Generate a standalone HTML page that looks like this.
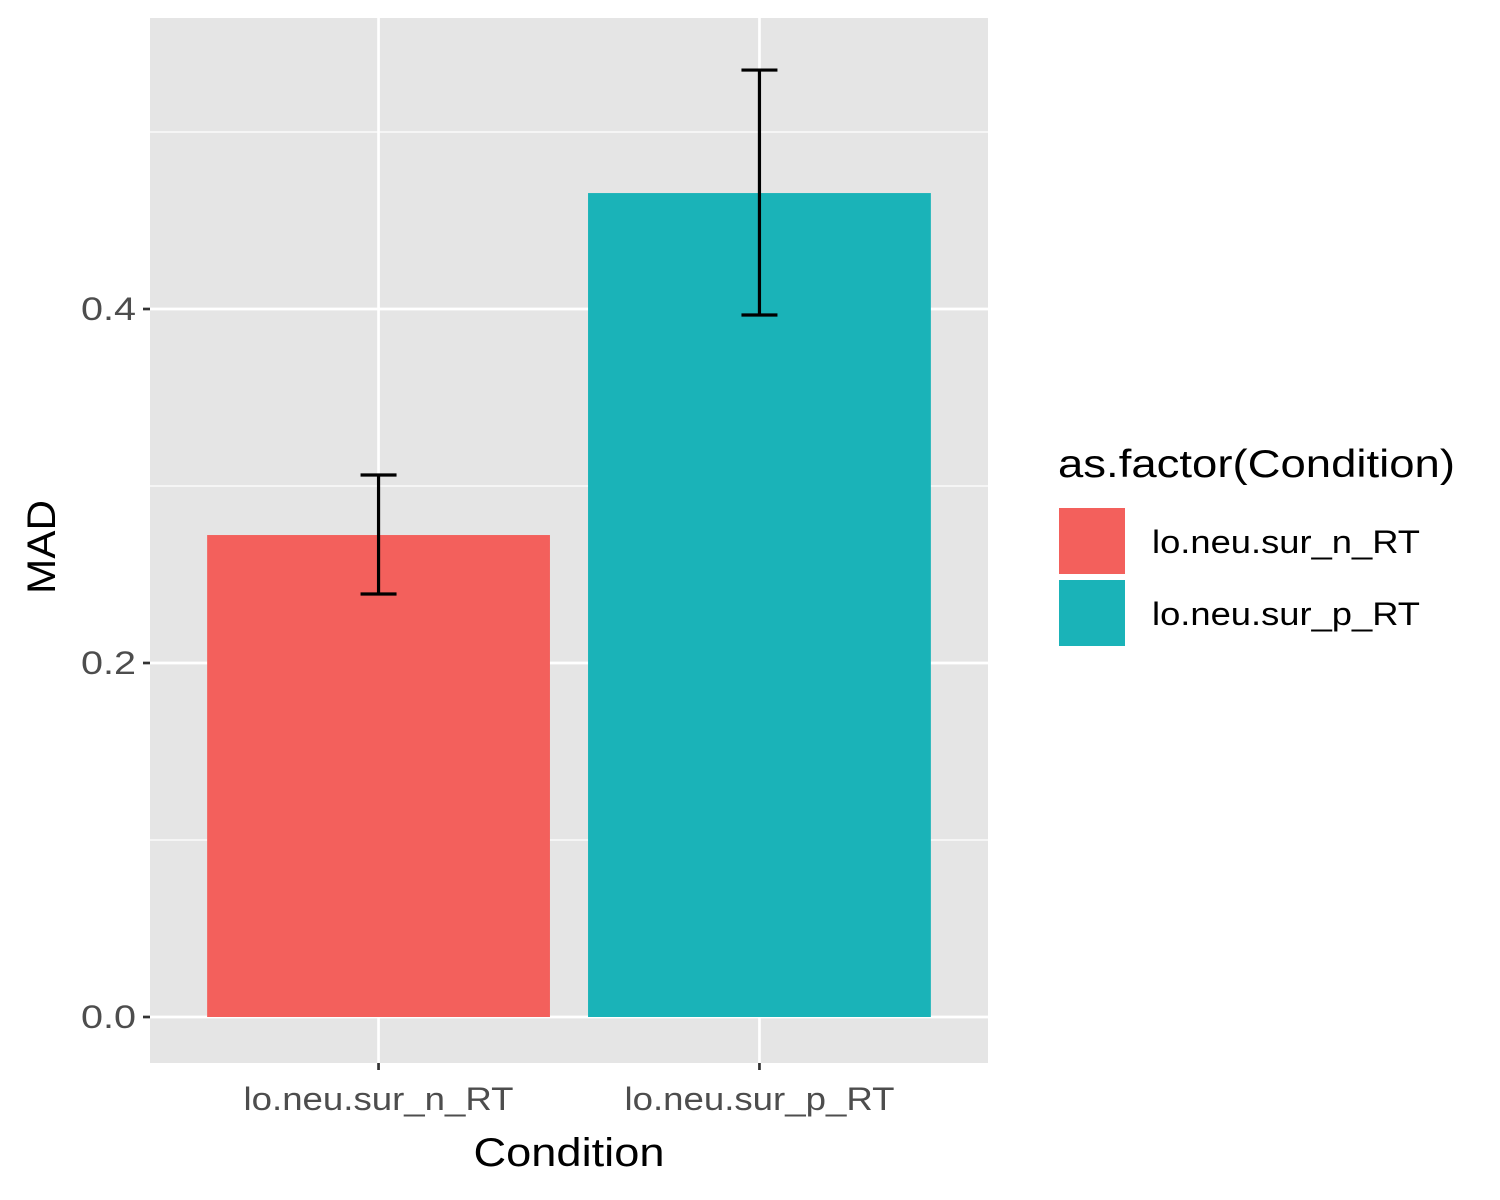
<!DOCTYPE html>
<html><head><meta charset="utf-8"><style>
body{margin:0;background:#fff;}
svg{display:block;font-family:"Liberation Sans",Arial,sans-serif;}
</style></head><body>
<svg id="chart" width="1500" height="1200"></svg>
<script>
const categories = ["lo.neu.sur_n_RT", "lo.neu.sur_p_RT"];
const values = [0.2723, 0.4655];
const errLow = [0.239, 0.3966];
const errHigh = [0.3062, 0.535];
const barColors = ["#F3605C", "#1AB3B8"];
const majorTicks = [0.0, 0.2, 0.4];
const tickLabels = ["0.0", "0.2", "0.4"];
const minorTicks = [0.1, 0.3, 0.5];

const NS = "http://www.w3.org/2000/svg";
const svg = document.getElementById("chart");
const P = {l:150, r:988, t:18, b:1063};
const y0 = 1017, pxPerUnit = 1770;
const yScale = v => y0 - v * pxPerUnit;
const band = (P.r - P.l) / (categories.length + 0.2);
const xCenter = i => P.l + band * 0.6 + band * i;
function el(tag, attrs, parent) {
  const e = document.createElementNS(NS, tag);
  for (const k in attrs) e.setAttribute(k, attrs[k]);
  (parent || svg).appendChild(e);
  return e;
}
const panel = el("rect", {x:P.l, y:P.t, width:P.r-P.l, height:P.b-P.t, fill:"#E5E5E5"});


minorTicks.forEach(v => {
  const l = el("line", {x1:P.l, x2:P.r, y1:yScale(v), y2:yScale(v), stroke:"#fff", "stroke-width":1.3});
  
  
});
majorTicks.forEach((v, i) => {
  const l = el("line", {x1:P.l, x2:P.r, y1:yScale(v), y2:yScale(v), stroke:"#fff", "stroke-width":2.7});
  
  
  const t = el("line", {x1:P.l-7, x2:P.l, y1:yScale(v), y2:yScale(v), stroke:"#333", "stroke-width":2.7});
  
  
  const tx = el("text", {x:P.l-14, y:yScale(v)+11, "text-anchor":"end", "font-size":32, fill:"#4D4D4D", textLength:55, lengthAdjust:"spacingAndGlyphs"});
  tx.textContent = tickLabels[i];
  
  
});
categories.forEach((c, i) => {
  const cx = xCenter(i);
  const g = el("line", {x1:cx, x2:cx, y1:P.t, y2:P.b, stroke:"#fff", "stroke-width":2.7});
  
  
  const w = band * 0.9;
  const b = el("rect", {x:cx-w/2, y:yScale(values[i]), width:w, height:yScale(0)-yScale(values[i]), fill:barColors[i]});
  
  
  const eg = el("g", {stroke:"#000", "stroke-width":3.2, fill:"none"});
  
  
  el("line", {x1:cx, x2:cx, y1:yScale(errHigh[i]), y2:yScale(errLow[i])}, eg);
  el("line", {x1:cx-18, x2:cx+18, y1:yScale(errHigh[i]), y2:yScale(errHigh[i])}, eg);
  el("line", {x1:cx-18, x2:cx+18, y1:yScale(errLow[i]), y2:yScale(errLow[i])}, eg);
  const t = el("line", {x1:cx, x2:cx, y1:P.b, y2:P.b+7, stroke:"#333", "stroke-width":2.7});
  
  
  const tx = el("text", {x:cx, y:P.b+47, "text-anchor":"middle", "font-size":32, fill:"#4D4D4D", textLength:270, lengthAdjust:"spacingAndGlyphs"});
  tx.textContent = c;
  
  
});
const xt = el("text", {x:(P.l+P.r)/2, y:1166, "text-anchor":"middle", "font-size":40, fill:"#000", textLength:191, lengthAdjust:"spacingAndGlyphs"});
xt.textContent = "Condition";


const yt = el("text", {x:0, y:0, "text-anchor":"middle", "font-size":40, fill:"#000", textLength:94, lengthAdjust:"spacingAndGlyphs", transform:"translate(55,547) rotate(-90)"});
yt.textContent = "MAD";


const lg = el("g", {});


const lt = el("text", {x:1058, y:477, "font-size":39, fill:"#000", textLength:397, lengthAdjust:"spacingAndGlyphs"}, lg);
lt.textContent = "as.factor(Condition)";


categories.forEach((c, i) => {
  const ky = 508 + i * 72;
  const k = el("rect", {x:1059, y:ky, width:66, height:66, fill:barColors[i]}, lg);
  
  
  const t = el("text", {x:1152, y:ky+45, "font-size":32, fill:"#000", textLength:268, lengthAdjust:"spacingAndGlyphs"}, lg);
  t.textContent = c;
  
  
});
</script>
</body></html>
